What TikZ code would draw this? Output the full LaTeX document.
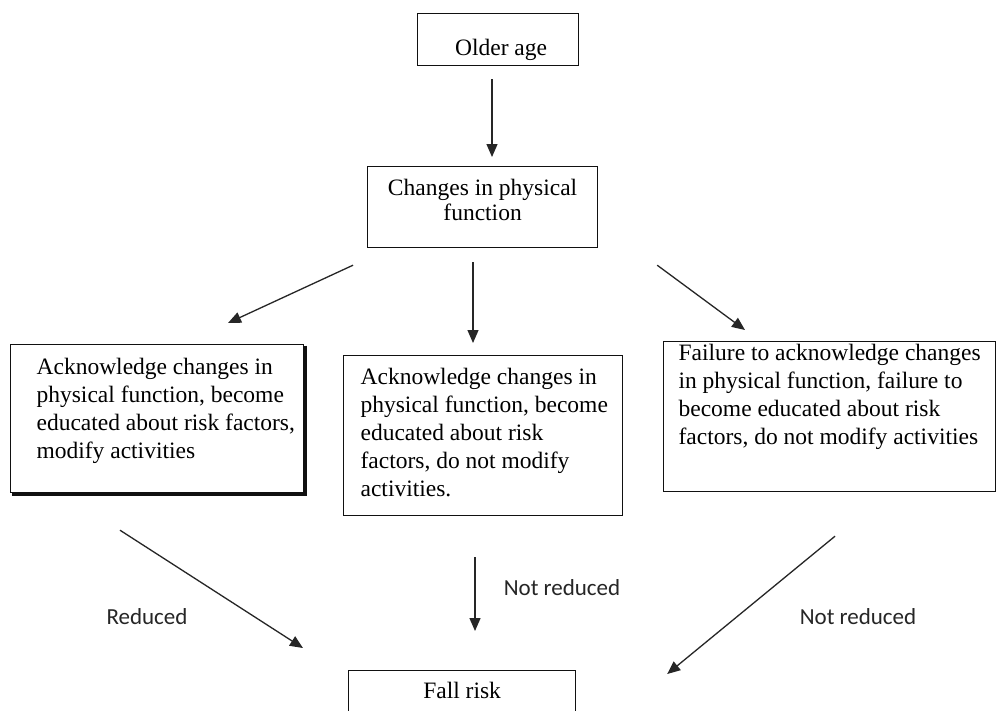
\documentclass[tikz,border=0pt]{standalone}
\usepackage{fontspec}
\setmainfont{Liberation Serif}
\newfontfamily\labfont{Carlito}
\usetikzlibrary{arrows.meta,calc}
\definecolor{ink}{HTML}{111111}
\definecolor{arr}{HTML}{262626}
\definecolor{labc}{HTML}{262626}
\newcommand{\boxtext}[5]{\begin{minipage}[c][#1][t]{#2}\vspace*{#3}#4\strut #5\end{minipage}}
\begin{document}
\begin{tikzpicture}[x=1pt,y=-1pt,
  box/.style={draw=ink, line width=1.2pt, anchor=north west, inner sep=0pt,
    font=\rmfamily\fontsize{23.5}{28}\selectfont, text=black},
  arrow/.style={draw=arr, line width=1.3pt, -{Triangle[length=13pt,width=11pt]}},
  lbl/.style={font=\labfont\fontsize{23}{28}\selectfont, text=labc, inner sep=0pt}]
\useasboundingbox (0,0) rectangle (1003,710);
\clip (0,0) rectangle (1003,710);
\fill[white] (0,0) rectangle (1003,710);

% boxes
\node[box] (older) at (417,13)
  {\boxtext{52pt}{161pt}{22pt}{\centering\hspace*{6pt}}{Older age}};
\node[box, font=\rmfamily\fontsize{23.5}{23}\selectfont] (changes) at (367,166)
  {\boxtext{81pt}{230pt}{13pt}{\centering}{Changes in physical\\ function}};
\node[box] (left) at (10,344)
  {\boxtext{148pt}{293pt}{10pt}{\raggedright\leftskip=26pt\relax}{Acknowledge changes in\\ physical function, become\\ educated about risk factors,\\ modify activities}};
\node[box] (mid) at (343,355)
  {\boxtext{160pt}{279pt}{9pt}{\raggedright\leftskip=17pt\relax}{Acknowledge changes in\\ physical function, become\\ educated about risk\\ factors, do not modify\\ activities.}};
\node[box] (right) at (663,341)
  {\boxtext{150pt}{332pt}{-1pt}{\raggedright\leftskip=15pt\relax}{Failure to acknowledge changes\\ in physical function, failure to\\ become educated about risk\\ factors, do not modify activities}};
\node[box] (fall) at (348,670)
  {\boxtext{60pt}{227pt}{8.4pt}{\centering}{Fall risk}};

% shadow of the left box (thick right and bottom edges)
\draw[ink, line width=2.2pt]
  ([xshift=1.2pt,yshift=-1.5pt]left.north east) -- ([xshift=1.2pt,yshift=-1.2pt]left.south east)
  -- ([xshift=1.5pt,yshift=-1.2pt]left.south west);

% arrow end points
\coordinate (a1) at ($(older.south west)+(75,13)$);
\coordinate (a2) at ($(changes.north west)+(125,-9)$);
\coordinate (b1) at ($(changes.south west)+(-14,17)$);
\coordinate (b2) at ($(left.north west)+(218,-21)$);
\coordinate (c1) at ($(changes.south west)+(106,14)$);
\coordinate (c2) at ($(mid.north west)+(130,-12)$);
\coordinate (d1) at ($(changes.south east)+(59,17)$);
\coordinate (d2) at ($(right.north west)+(82,-11)$);
\coordinate (e1) at ($(left.south west)+(110,37)$);
\coordinate (e2) at ($(fall.north west)+(-45,-22)$);
\coordinate (f1) at ($(mid.south west)+(132,41)$);
\coordinate (f2) at ($(fall.north west)+(127,-39)$);
\coordinate (g1) at ($(right.south west)+(172,44)$);
\coordinate (g2) at ($(fall.north east)+(91,4)$);

\draw[arrow] (a1) -- (a2);
\draw[arrow] (b1) -- (b2);
\draw[arrow] (c1) -- (c2);
\draw[arrow] (d1) -- (d2);
\draw[arrow] (e1) -- (e2);
\draw[arrow] (f1) -- (f2);
\draw[arrow] (g1) -- (g2);

% labels
\node[lbl] (lreduced) at (147,617) {Reduced};
\node[lbl] (lmid) at (562,588) {Not reduced};
\node[lbl] (lright) at (858,617) {Not reduced};
\end{tikzpicture}
\end{document}
